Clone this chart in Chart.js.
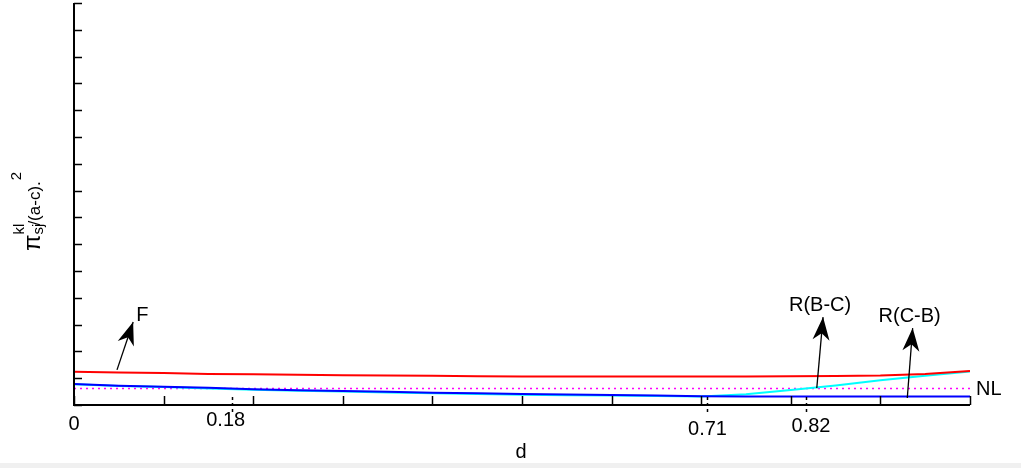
<!DOCTYPE html>
<html>
<head>
<meta charset="utf-8">
<title>Profit vs d</title>
<script src="https://cdn.jsdelivr.net/npm/chart.js@4.4.1/dist/chart.umd.min.js"></script>
<style>
    html, body { margin: 0; padding: 0; background: #f0f0f0; }
    #wrap { width: 1021px; height: 463px; background: #ffffff; }
</style>
</head>
<body>
<div id="wrap"><canvas id="chart" width="1021" height="463"></canvas></div>
<script>
// d values (x axis)
const dValues = [0, 0.05, 0.1, 0.15, 0.2, 0.25, 0.3, 0.35, 0.4, 0.45, 0.5,
                 0.55, 0.6, 0.65, 0.7, 0.75, 0.8, 0.85, 0.9, 0.95, 1];

// series values
const fValues    = [1.24, 1.21, 1.19, 1.16, 1.15, 1.13, 1.11, 1.10, 1.09, 1.07, 1.06,
                    1.06, 1.06, 1.06, 1.06, 1.06, 1.07, 1.08, 1.10, 1.16, 1.27];
const rcbValues  = [0.78, 0.72, 0.68, 0.64, 0.59, 0.55, 0.52, 0.49, 0.46, 0.44, 0.41,
                    0.39, 0.37, 0.35, 0.33, 0.32, 0.32, 0.32, 0.32, 0.32, 0.32];
const rbcValues  = [0.77, 0.71, 0.67, 0.62, 0.57, 0.53, 0.50, 0.47, 0.44, 0.41, 0.38,
                    0.36, 0.35, 0.34, 0.32, 0.40, 0.56, 0.73, 0.92, 1.09, 1.25];
const nlLevel = 0.62;

// axis ranges and ticks
const xTickValues = [0, 0.1, 0.2, 0.3, 0.4, 0.5, 0.6, 0.7, 0.8, 0.9, 1];
const yMax = 15;

// threshold markers on the d axis
const markerValues = [0.176, 0.707, 0.817];
const markerLabels = ['0.18', '0.71', '0.82'];

// arrows: from a point on a curve to the label
const arrowLabels = ['F', 'R(B-C)', 'R(C-B)'];
const arrowFrom   = [[0.048, 1.31], [0.829, 0.63], [0.930, 0.26]];
const arrowTo     = [[0.066, 3.10], [0.836, 3.28], [0.936, 2.87]];

const FONT = '"Liberation Sans", Arial, sans-serif';

function toPoints(values) {
    return dValues.map((d, i) => ({ x: d, y: values[i] }));
}

function drawArrow(ctx, x1, y1, x2, y2) {
    ctx.beginPath();
    ctx.moveTo(x1, y1);
    ctx.lineTo(x2, y2);
    ctx.stroke();

    const ang = Math.atan2(y2 - y1, x2 - x1);
    const len = 23, half = 8.5;
    const bx = x2 - Math.cos(ang) * len;
    const by = y2 - Math.sin(ang) * len;
    const nx = x2 - Math.cos(ang) * len * 0.7;
    const ny = y2 - Math.sin(ang) * len * 0.7;
    ctx.beginPath();
    ctx.moveTo(x2, y2);
    ctx.lineTo(bx - Math.sin(ang) * half, by + Math.cos(ang) * half);
    ctx.lineTo(nx, ny);
    ctx.lineTo(bx + Math.sin(ang) * half, by - Math.cos(ang) * half);
    ctx.closePath();
    ctx.fill();
}

const axesPlugin = {
    id: 'axesPlugin',
    afterDatasetsDraw(chart) {
        const ctx = chart.ctx;
        const xs = chart.scales.x;
        const ys = chart.scales.y;
        const area = chart.chartArea;

        ctx.save();
        ctx.strokeStyle = '#000';
        ctx.fillStyle = '#000';

        // axis lines
        ctx.lineWidth = 2;
        ctx.beginPath();
        ctx.moveTo(area.left, area.top);
        ctx.lineTo(area.left, area.bottom);
        ctx.lineTo(area.right, area.bottom);
        ctx.stroke();

        // y ticks, pointing inward
        ctx.lineWidth = 1.5;
        ys.ticks.forEach(t => {
            const py = Math.round(ys.getPixelForValue(t.value)) + 0.5;
            ctx.beginPath();
            ctx.moveTo(area.left, py);
            ctx.lineTo(area.left + 8, py);
            ctx.stroke();
        });

        // x ticks, pointing up
        xTickValues.forEach(v => {
            const px = Math.round(xs.getPixelForValue(v)) + 0.5;
            ctx.beginPath();
            ctx.moveTo(px, area.bottom);
            ctx.lineTo(px, area.bottom - 9);
            ctx.stroke();
        });

        // dashed threshold markers
        ctx.setLineDash([3, 3]);
        markerValues.forEach(v => {
            const px = Math.round(xs.getPixelForValue(v)) + 0.5;
            ctx.beginPath();
            ctx.moveTo(px, area.bottom - 8);
            ctx.lineTo(px, area.bottom + 9);
            ctx.stroke();
        });
        ctx.setLineDash([]);

        // x labels
        ctx.font = '20px ' + FONT;
        ctx.textAlign = 'center';
        ctx.textBaseline = 'alphabetic';
        ctx.fillText('0', xs.getPixelForValue(0), area.bottom + 25);
        const labelDx = [-6, 0, 5];
        const labelDy = [21, 30, 27];
        markerValues.forEach((v, i) => {
            ctx.fillText(markerLabels[i], xs.getPixelForValue(v) + labelDx[i], area.bottom + labelDy[i]);
        });
        ctx.fillText('d', (area.left + area.right) / 2 - 1, area.bottom + 53);

        // NL label
        ctx.textAlign = 'left';
        ctx.textBaseline = 'middle';
        ctx.fillText('NL', area.right + 6, ys.getPixelForValue(nlLevel) + 1);

        // arrows with labels
        ctx.lineWidth = 1.3;
        arrowLabels.forEach((label, i) => {
            const x1 = xs.getPixelForValue(arrowFrom[i][0]);
            const y1 = ys.getPixelForValue(arrowFrom[i][1]);
            const x2 = xs.getPixelForValue(arrowTo[i][0]);
            const y2 = ys.getPixelForValue(arrowTo[i][1]);
            drawArrow(ctx, x1, y1, x2, y2);
            ctx.textBaseline = 'alphabetic';
            if (i === 0) {
                ctx.textAlign = 'left';
                ctx.fillText(label, x2 + 3, y2 - 1);
            } else {
                ctx.textAlign = 'center';
                ctx.fillText(label, x2 - 3, y2 - 6);
            }
        });

        // y axis title: pi_sj^kl/(a-c).^2, rotated
        ctx.translate(40, 251);
        ctx.rotate(-Math.PI / 2);
        ctx.textAlign = 'left';
        ctx.textBaseline = 'alphabetic';
        let x = 0;
        ctx.font = '24px ' + FONT;
        ctx.fillText('π', x, 0);
        x += ctx.measureText('π').width;
        ctx.font = '15px ' + FONT;
        ctx.fillText('sj', x, 3);
        const wSub = ctx.measureText('sj').width;
        ctx.fillText('kl', x, -16);
        x += Math.max(wSub, ctx.measureText('kl').width) - 2;
        ctx.font = '17px ' + FONT;
        ctx.fillText('/(a-c).', x, 0);
        x += ctx.measureText('/(a-c).').width + 1;
        ctx.font = '15px ' + FONT;
        ctx.fillText('2', x, -19);

        ctx.restore();
    }
};

const ctx = document.getElementById('chart').getContext('2d');

new Chart(ctx, {
    type: 'line',
    data: {
        datasets: [
            {
                label: 'F',
                data: toPoints(fValues),
                borderColor: '#ff0000',
                borderWidth: 2,
                pointRadius: 0,
                tension: 0
            },
            {
                label: 'R(C-B)',
                data: toPoints(rcbValues),
                borderColor: '#0000ff',
                borderWidth: 2,
                pointRadius: 0,
                tension: 0
            },
            {
                label: 'R(B-C)',
                data: toPoints(rbcValues),
                borderColor: '#00ffff',
                borderWidth: 2,
                pointRadius: 0,
                tension: 0
            },
            {
                label: 'NL',
                data: [{ x: 0, y: nlLevel }, { x: 1, y: nlLevel }],
                borderColor: '#ff00ff',
                borderWidth: 1.5,
                borderDash: [2, 4],
                pointRadius: 0
            }
        ]
    },
    options: {
        responsive: false,
        animation: false,
        layout: {
            padding: { left: 74, right: 51, top: 3, bottom: 58 }
        },
        scales: {
            x: {
                type: 'linear',
                min: 0,
                max: 1,
                display: false
            },
            y: {
                min: 0,
                max: yMax,
                display: false,
                ticks: { stepSize: 1 }
            }
        },
        plugins: {
            legend: { display: false },
            tooltip: { enabled: false }
        }
    },
    plugins: [axesPlugin]
});
</script>
</body>
</html>
